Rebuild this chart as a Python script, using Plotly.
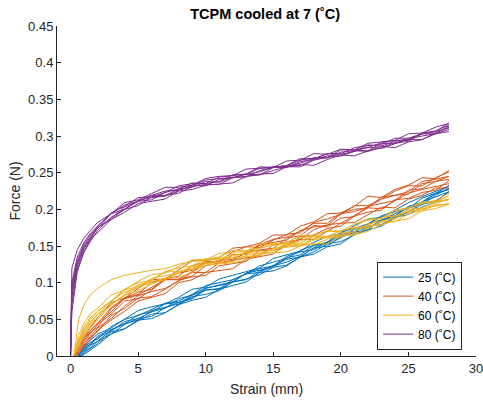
import plotly.graph_objects as go
import numpy as np

# Strain grids (mm) for each temperature group
X_80 = [0.0, 0.1, 0.5, 1.0, 1.5] + list(range(2, 29))
X_40 = [0.3, 0.6, 1.0, 1.5] + list(range(2, 29))
X_60 = [0.25, 0.6, 1.0, 1.5] + list(range(2, 29))
X_25 = [0.55, 0.8, 1.0, 1.5] + list(range(2, 29))

# Force readings in mN (converted to N below), one list per repeated test
F_80 = [
    [0, 120, 145, 161, 172, 182, 194, 209, 213, 221, 230, 230, 233, 242, 245, 246, 255, 256, 257, 266, 267, 276, 275, 282, 281, 290, 292, 294, 303, 304, 312, 317],
    [0, 100, 135, 155, 168, 177, 195, 204, 216, 217, 223, 232, 235, 235, 244, 246, 248, 258, 257, 260, 269, 269, 276, 276, 284, 287, 288, 297, 297, 303, 306, 318],
    [0, 90, 128, 150, 163, 177, 194, 200, 211, 219, 219, 228, 236, 235, 238, 247, 248, 251, 258, 257, 265, 268, 276, 275, 279, 288, 286, 293, 296, 303, 303, 314],
    [0, 80, 122, 146, 160, 175, 188, 203, 211, 213, 223, 228, 230, 238, 237, 244, 244, 253, 257, 258, 263, 270, 270, 278, 280, 280, 290, 290, 293, 303, 306, 311],
    [0, 70, 118, 142, 157, 171, 189, 200, 205, 217, 219, 222, 231, 234, 234, 243, 248, 247, 253, 258, 258, 267, 271, 273, 280, 279, 284, 291, 295, 295, 304, 312],
    [0, 60, 115, 142, 160, 168, 186, 196, 208, 211, 214, 225, 227, 233, 234, 236, 245, 248, 249, 258, 261, 260, 268, 274, 273, 280, 286, 284, 292, 295, 303, 306],
    [0, 95, 130, 152, 166, 174, 194, 206, 211, 219, 225, 226, 232, 240, 242, 243, 248, 256, 258, 259, 267, 270, 271, 281, 281, 284, 291, 294, 294, 304, 307, 315],
    [0, 85, 125, 148, 161, 175, 186, 200, 212, 216, 218, 225, 233, 232, 241, 243, 245, 247, 257, 258, 260, 268, 273, 273, 279, 285, 283, 290, 296, 300, 303, 309],
]
F_40 = [
    [0, 12, 27, 40, 52, 73, 79, 92, 104, 105, 117, 130, 130, 134, 147, 149, 154, 165, 165, 177, 183, 194, 195, 204, 218, 216, 227, 233, 243, 242, 253],
    [0, 10, 25, 36, 44, 66, 79, 84, 101, 105, 109, 123, 128, 129, 142, 149, 148, 158, 166, 168, 182, 187, 193, 205, 205, 214, 225, 232, 232, 243, 251],
    [0, 9, 22, 33, 39, 64, 78, 83, 94, 104, 105, 115, 127, 130, 132, 140, 151, 155, 158, 171, 176, 178, 194, 197, 203, 214, 219, 221, 235, 238, 245],
    [0, 8, 20, 31, 43, 57, 75, 78, 90, 104, 104, 109, 123, 127, 129, 142, 144, 147, 161, 164, 178, 176, 188, 190, 204, 208, 212, 226, 228, 238, 241],
    [0, 6, 17, 28, 38, 51, 68, 82, 88, 92, 102, 114, 114, 127, 130, 134, 137, 152, 155, 159, 172, 179, 181, 192, 202, 201, 212, 222, 227, 231, 235],
    [0, 5, 15, 26, 33, 55, 65, 79, 81, 91, 103, 108, 110, 123, 126, 129, 144, 144, 149, 163, 165, 174, 177, 191, 196, 199, 213, 215, 223, 226, 239],
    [0, 3, 12, 23, 35, 49, 61, 75, 80, 85, 100, 104, 114, 116, 119, 132, 136, 139, 153, 159, 159, 170, 181, 182, 193, 203, 202, 214, 219, 229, 229],
    [0, 11, 24, 35, 45, 60, 79, 87, 91, 106, 113, 117, 129, 128, 138, 139, 152, 159, 162, 170, 181, 181, 195, 200, 202, 217, 219, 224, 238, 241, 245],
]
F_60 = [
    [0, 50, 70, 84, 92, 104, 110, 114, 117, 119, 125, 129, 131, 140, 142, 143, 153, 152, 155, 164, 164, 170, 170, 180, 185, 188, 199, 202, 209, 212, 222],
    [0, 28, 45, 58, 65, 83, 90, 102, 111, 113, 122, 131, 132, 135, 144, 144, 147, 154, 153, 161, 164, 171, 170, 176, 187, 187, 196, 202, 210, 210, 219],
    [0, 22, 40, 53, 61, 75, 91, 100, 103, 115, 120, 123, 133, 132, 139, 138, 147, 151, 152, 157, 164, 163, 171, 175, 177, 189, 191, 197, 208, 211, 214],
    [0, 18, 35, 47, 56, 75, 87, 93, 106, 110, 113, 123, 128, 128, 137, 141, 140, 146, 151, 151, 160, 163, 165, 174, 175, 182, 191, 198, 199, 208, 214],
    [0, 14, 30, 43, 53, 71, 82, 95, 99, 104, 115, 118, 126, 127, 129, 137, 140, 141, 150, 153, 152, 159, 165, 166, 175, 183, 183, 194, 198, 206, 207],
    [0, 10, 26, 39, 49, 70, 83, 89, 98, 106, 107, 114, 124, 126, 127, 131, 139, 141, 142, 150, 153, 153, 163, 165, 170, 179, 184, 187, 198, 201, 207],
    [0, 16, 32, 45, 57, 69, 84, 97, 102, 106, 113, 122, 123, 132, 134, 135, 137, 147, 148, 150, 158, 162, 162, 170, 178, 178, 187, 196, 201, 204, 208],
    [0, 20, 37, 50, 61, 74, 90, 95, 104, 115, 115, 119, 130, 133, 134, 142, 143, 144, 153, 154, 163, 161, 168, 169, 180, 184, 188, 200, 202, 210, 213],
]
F_25 = [
    [0, 8, 14, 22, 30, 38, 50, 62, 67, 71, 80, 91, 94, 105, 110, 115, 120, 133, 138, 143, 155, 163, 167, 178, 187, 189, 199, 209, 217, 224, 232],
    [0, 6, 12, 19, 23, 40, 50, 55, 64, 72, 75, 84, 96, 100, 104, 112, 123, 128, 133, 144, 151, 155, 169, 174, 180, 191, 197, 201, 215, 222, 232],
    [0, 5, 10, 17, 27, 36, 44, 56, 60, 65, 78, 83, 93, 96, 101, 113, 119, 123, 136, 142, 145, 156, 166, 170, 180, 190, 191, 203, 210, 222, 227],
    [0, 4, 8, 15, 20, 35, 44, 49, 62, 66, 71, 83, 90, 92, 104, 112, 114, 123, 132, 135, 148, 155, 161, 173, 175, 184, 194, 202, 206, 219, 229],
    [0, 2, 6, 12, 20, 30, 43, 51, 54, 66, 73, 78, 90, 91, 101, 104, 116, 123, 128, 136, 147, 150, 162, 169, 172, 186, 189, 196, 210, 217, 224],
    [0, 1, 4, 10, 17, 33, 37, 48, 57, 59, 70, 81, 84, 89, 101, 105, 111, 121, 124, 135, 142, 153, 156, 165, 177, 179, 189, 196, 207, 211, 224],
    [0, 0, 2, 8, 15, 30, 37, 49, 51, 59, 70, 76, 80, 91, 96, 101, 114, 116, 123, 135, 139, 149, 153, 166, 172, 177, 189, 193, 203, 210, 224],
    [0, 5, 9, 16, 25, 34, 47, 51, 60, 71, 73, 79, 92, 97, 101, 113, 117, 121, 134, 138, 151, 153, 164, 168, 180, 186, 191, 204, 209, 221, 228],
]

GROUPS = [
    ("25 (˚C)", X_25, F_25, "#0072BD"),
    ("40 (˚C)", X_40, F_40, "#D95319"),
    ("60 (˚C)", X_60, F_60, "#EDB120"),
    ("80 (˚C)", X_80, F_80, "#7E2F8E"),
]

fig = go.Figure()
for name, xs, curves, color in GROUPS:
    for i, c in enumerate(curves):
        fig.add_trace(go.Scatter(
            x=xs, y=np.array(c) / 1000.0, mode="lines",
            line=dict(color=color, width=1),
            name=name, legendgroup=name, showlegend=(i == 0),
        ))

axis_color = "#262626"
font_family = "Liberation Sans, Arial, sans-serif"
fig.update_layout(
    width=483, height=401,
    margin=dict(l=57, r=7, t=26, b=45),
    paper_bgcolor="white", plot_bgcolor="white",
    font=dict(family=font_family, size=13, color=axis_color),
    title=dict(text="<b>TCPM cooled at 7 (˚C)</b>", x=0.549, xanchor="center",
               y=0.965, yanchor="middle", font=dict(size=14.5, color="black")),
    legend=dict(x=0.764, y=0.286, xanchor="left", yanchor="top",
                bordercolor=axis_color, borderwidth=1, bgcolor="white",
                font=dict(size=12, color="black"), tracegroupgap=0),
    showlegend=True,
)
fig.update_xaxes(range=[-1, 30], tickvals=[0, 5, 10, 15, 20, 25, 30],
                 ticks="inside", ticklen=4, tickcolor=axis_color,
                 showline=True, linecolor=axis_color, linewidth=1,
                 showgrid=False, zeroline=False, automargin=False,
                 ticklabeloverflow="allow",
                 title=dict(text="Strain (mm)", standoff=9, font=dict(size=14)))
fig.update_yaxes(range=[0, 0.45], tickvals=[i * 0.05 for i in range(10)],
                 ticktext=["0", "0.05", "0.1", "0.15", "0.2", "0.25", "0.3", "0.35", "0.4", "0.45"],
                 ticks="inside", ticklen=4, tickcolor=axis_color,
                 showline=True, linecolor=axis_color, linewidth=1,
                 showgrid=False, zeroline=False, automargin=False,
                 ticklabeloverflow="allow",
                 title=dict(text="Force (N)", standoff=4, font=dict(size=14)))

fig.write_html("out.html")
